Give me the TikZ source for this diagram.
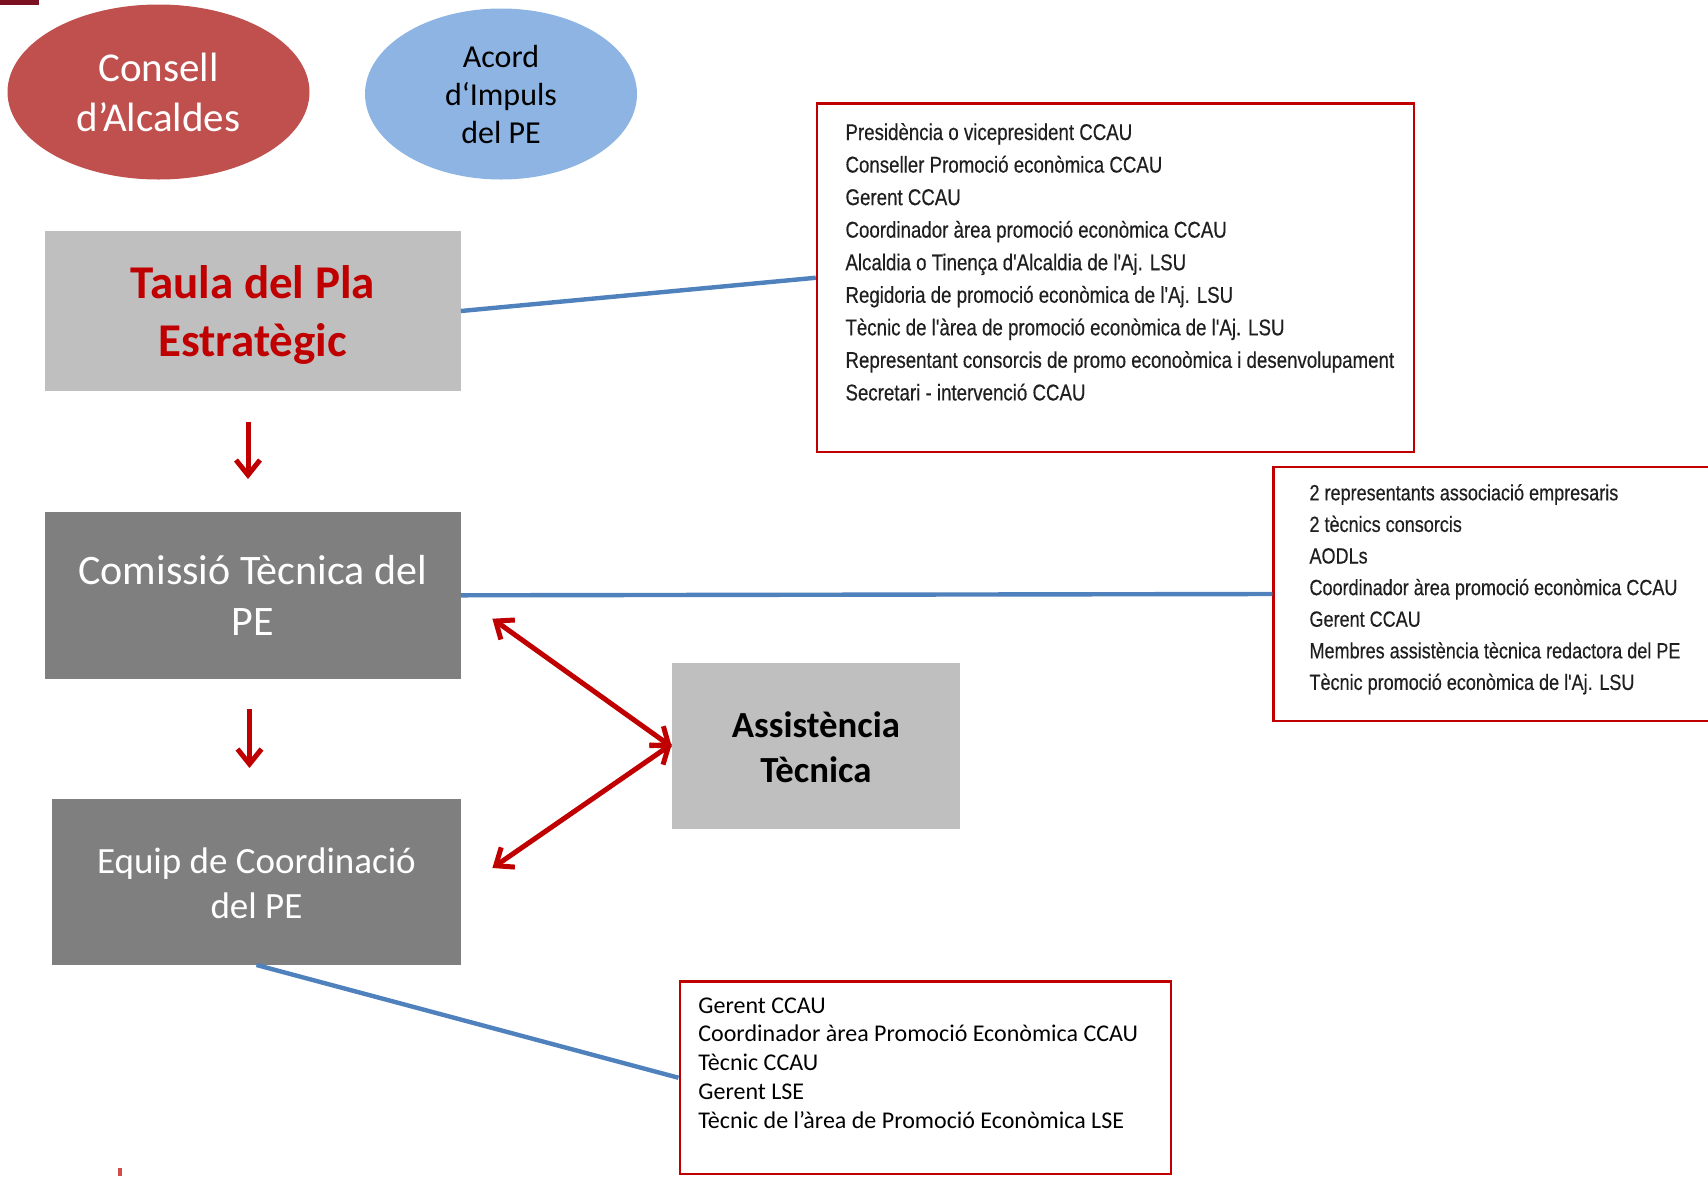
\documentclass[tikz,border=0pt]{standalone}
\usepackage{fontspec}
\setmainfont{Carlito}
\newfontfamily\narrowfont[FakeStretch=0.82,FakeBold=0.4]{Liberation Sans}
\usetikzlibrary{arrows.meta,shapes.geometric,calc}
\definecolor{consellred}{HTML}{C0504D}
\definecolor{acordblue}{HTML}{8DB4E2}
\definecolor{lightgr}{HTML}{BFBFBF}
\definecolor{darkgr}{HTML}{7F7F7F}
\definecolor{darkred}{HTML}{C00000}
\definecolor{lineblue}{HTML}{4F81BD}
\definecolor{maroonmark}{HTML}{7B1020}
\begin{document}
\begin{tikzpicture}[x=1pt,y=-1pt,
  oval/.style={ellipse, inner sep=0pt, align=center},
  boxnode/.style={rectangle, inner sep=0pt, align=center},
  listbox/.style={rectangle, draw=darkred, line width=2.4pt, inner sep=0pt, fill=white},
  blueline/.style={draw=lineblue, line width=4.4pt},
  redarrow/.style={draw=darkred, line width=5pt, -{Straight Barb[length=15pt,width=24pt]}},
  redboth/.style={draw=darkred, line width=5pt, {Straight Barb[length=15pt,width=24pt]}-{Straight Barb[length=15pt,width=24pt]}},
  listA/.style={font=\narrowfont\fontsize{22.8}{27}\selectfont, anchor=base west, inner sep=0pt, text=black!88},
  listB/.style={font=\narrowfont\fontsize{22}{26}\selectfont, anchor=base west, inner sep=0pt, text=black!88},
  listC/.style={font=\fontsize{24}{29}\selectfont, anchor=base west, inner sep=0pt, text=black},
]
\useasboundingbox (0,0) rectangle (1708,1176);
\clip (0,0) rectangle (1708,1176);
\fill[white] (0,0) rectangle (1708,1176);
\fill[maroonmark] (0,0) rectangle (39,5);
\fill[darkred!70] (118,1168) rectangle (122,1176);

% ellipses
\node[oval, fill=consellred, minimum width=302pt, minimum height=175pt,
      text=white, font=\fontsize{41}{50}\selectfont] (consell) at (158.5,92) {Consell\\d’Alcaldes};
\node[oval, fill=acordblue, minimum width=272pt, minimum height=171pt,
      text=black, font=\fontsize{32}{38}\selectfont] (acord) at (501,94) {Acord\\d‘Impuls\\del PE};

% main boxes
\node[boxnode, fill=lightgr, minimum width=416pt, minimum height=160pt] (taula) at (252.7,311) {};
\node[align=center, inner sep=0pt, text=darkred, font=\bfseries\fontsize{47}{58}\selectfont]
      (taulatxt) at ([yshift=-4.4pt]taula.center) {Taula del Pla\\Estratègic};
\node[boxnode, fill=darkgr, minimum width=416pt, minimum height=166.6pt,
      text=white, font=\fontsize{42}{51}\selectfont] (comissio) at (252.7,595.3) {Comissió Tècnica del\\PE};
\node[boxnode, fill=darkgr, minimum width=408.5pt, minimum height=165.5pt] (equip) at (256.5,882) {};
\node[align=center, inner sep=0pt, text=white, font=\fontsize{37}{44.7}\selectfont]
      (equiptxt) at ([yshift=-1.2pt]equip.center) {Equip de Coordinació\\del PE};
\node[boxnode, fill=lightgr, minimum width=287.7pt, minimum height=166pt] (assist) at (815.9,746) {};
\node[align=center, inner sep=0pt, text=black, font=\bfseries\fontsize{36.8}{44.7}\selectfont]
      (assisttxt) at ([yshift=-1.2pt]assist.center) {Assistència\\Tècnica};

% list boxes
\node[listbox, minimum width=597pt, minimum height=348.5pt] (box1) at (1115.5,277.75) {};
\node[listbox, minimum width=460pt, minimum height=254pt] (box2) at (1503.5,594) {};
\node[listbox, minimum width=491.3pt, minimum height=192.5pt] (box3) at (925.35,1077.75) {};

\foreach \t [count=\i] in {Presidència o vicepresident CCAU,
  Conseller Promoció econòmica CCAU,
  Gerent CCAU,
  Coordinador àrea promoció econòmica CCAU,
  Alcaldia o Tinença d'Alcaldia de l'Aj. LSU,
  Regidoria de promoció econòmica de l'Aj. LSU,
  Tècnic de l'àrea de promoció econòmica de l'Aj. LSU,
  Representant consorcis de promo econoòmica i desenvolupament,
  Secretari - intervenció CCAU}
  \node[listA] (boxa\i) at (845.3,{140+32.55*(\i-1)}) {\t};

\foreach \t [count=\i] in {2 representants associació empresaris,
  2 tècnics consorcis,
  AODLs,
  Coordinador àrea promoció econòmica CCAU,
  Gerent CCAU,
  Membres assistència tècnica redactora del PE,
  Tècnic promoció econòmica de l'Aj. LSU}
  \node[listB] (boxb\i) at (1309.3,{500.3+31.6*(\i-1)}) {\t};

\foreach \t [count=\i] in {Gerent CCAU,
  Coordinador àrea Promoció Econòmica CCAU,
  Tècnic CCAU,
  Gerent LSE,
  Tècnic de l’àrea de Promoció Econòmica LSE}
  \node[listC] (boxc\i) at (698.2,{1013+28.9*(\i-1)}) {\t};

% connectors
\draw[blueline] (taula.east) -- (box1.west);
\draw[blueline] (comissio.east) -- (box2.west);
\draw[blueline] (equip.south) -- (box3.west);

\coordinate (d1s) at (248,421.5);
\coordinate (d1e) at (248,479);
\coordinate (d2s) at (249.5,709);
\coordinate (d2e) at (249.5,768);
\draw[redarrow] (d1s) -- (d1e);
\draw[redarrow] (d2s) -- (d2e);

\coordinate (u1) at (492.4,618.7);
\coordinate (u2) at (492.4,868);
\draw[redboth] (u1) -- ([yshift=-1pt]assist.west);
\draw[redboth] (u2) -- ([yshift=2pt]assist.west);
\end{tikzpicture}
\end{document}
